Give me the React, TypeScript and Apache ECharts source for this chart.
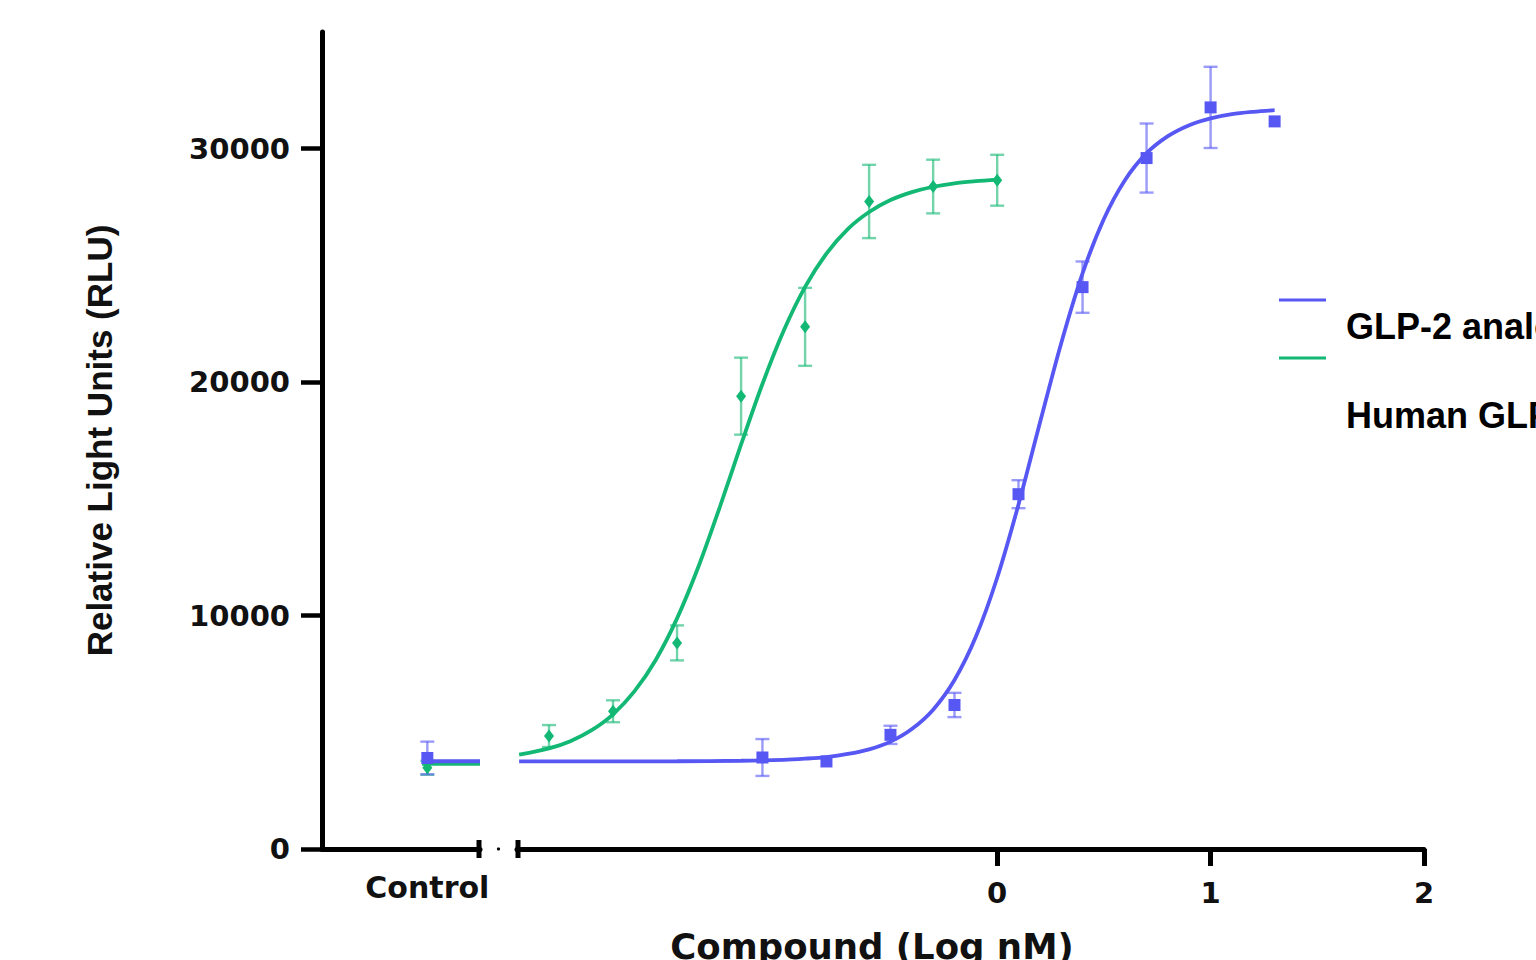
import React, { useEffect, useRef } from 'react';
import * as echarts from 'echarts';

// ---------- data ----------
const seriesNames = ['GLP-2 analog', 'Human GLP-2'];
const yTicks = [0, 10000, 20000, 30000];
const xTicks = [0, 1, 2];
const controlLabel = 'Control';

// control segment (position 1 on the control axis)
const controlX = [1];
const analogControlMean = [3900];
const analogControlSem = [700];
const humanControlMean = [3480];
const humanControlSem = [300];
const controlCurveX = [0.95, 1.5];
const analogControlCurve = [3760, 3760];
const humanControlCurve = [3650, 3650];

// Human GLP-2 (green)
const humanLogX = [-2.1, -1.8, -1.5, -1.2, -0.9, -0.6, -0.3, 0];
const humanMean = [4840, 5900, 8830, 19400, 22370, 27740, 28380, 28650];
const humanSem = [470, 470, 750, 1650, 1670, 1570, 1150, 1090];
const humanCurveX = [-2.24, -2.1, -2.0, -1.9, -1.8, -1.7, -1.6, -1.5, -1.4, -1.3, -1.2, -1.1, -1.0, -0.9, -0.8, -0.7, -0.6, -0.5, -0.4, -0.3, -0.2, -0.1, 0];
const humanCurveY = [4040, 4310, 4620, 5090, 5770, 6750, 8100, 9880, 12090, 14640, 17330, 19920, 22210, 24080, 25510, 26560, 27290, 27800, 28140, 28370, 28520, 28610, 28680];

// GLP-2 analog (blue)
const analogLogX = [-1.1, -0.8, -0.5, -0.2, 0.1, 0.4, 0.7, 1.0, 1.3];
const analogMean = [3920, 3750, 4890, 6170, 15200, 24070, 29600, 31770, 31170];
const analogSem = [790, 0, 390, 520, 600, 1100, 1480, 1740, 0];
const analogCurveX = [-2.24, -1.5, -1.2, -1.0, -0.9, -0.8, -0.7, -0.6, -0.5, -0.4, -0.3, -0.2, -0.1, 0, 0.1, 0.2, 0.3, 0.4, 0.5, 0.6, 0.7, 0.8, 0.9, 1.0, 1.1, 1.2, 1.3];
const analogCurveY = [3750, 3760, 3780, 3820, 3870, 3940, 4070, 4270, 4600, 5140, 5970, 7240, 9090, 11620, 14760, 18250, 21670, 24660, 26990, 28670, 29810, 30540, 31010, 31300, 31480, 31580, 31650];

// ---------- styles ----------
const BLUE = '#5757F3';
const GREEN = '#12B873';
const TICK_FONT = 'DejaVu Sans';
const SANS = 'Liberation Sans';

const pairs = (xs: number[], ys: number[]) => xs.map((x, i) => [x, ys[i]]);

const errorSeries = (name: string, xs: number[], means: number[], sems: number[], color: string, idx: number) => ({
  type: 'custom',
  name,
  xAxisIndex: idx,
  yAxisIndex: idx,
  silent: true,
  z: 2,
  data: xs
    .map((x, i) => [x, means[i] - sems[i], means[i] + sems[i], sems[i]])
    .filter((d) => d[3] > 0),
  encode: { x: 0, y: [1, 2] },
  renderItem: (_params: any, api: any) => {
    const x = api.value(0);
    const lo = api.coord([x, api.value(1)]);
    const hi = api.coord([x, api.value(2)]);
    const hw = 7;
    const style = { stroke: color, lineWidth: 2.4, opacity: 0.6 };
    return {
      type: 'group',
      children: [
        { type: 'line', shape: { x1: lo[0], y1: lo[1], x2: hi[0], y2: hi[1] }, style },
        { type: 'line', shape: { x1: hi[0] - hw, y1: hi[1], x2: hi[0] + hw, y2: hi[1] }, style },
        { type: 'line', shape: { x1: lo[0] - hw, y1: lo[1], x2: lo[0] + hw, y2: lo[1] }, style },
      ],
    };
  },
});

const lineSeries = (name: string, data: number[][], color: string, idx: number) => ({
  type: 'line',
  name,
  xAxisIndex: idx,
  yAxisIndex: idx,
  data,
  smooth: 0.3,
  showSymbol: false,
  symbol: 'none',
  lineStyle: { color, width: 3.8 },
  itemStyle: { color },
  z: 3,
  silent: true,
});

const pointSeries = (name: string, data: number[][], color: string, idx: number, symbol: string, size: any) => ({
  type: 'scatter',
  name,
  xAxisIndex: idx,
  yAxisIndex: idx,
  data,
  symbol,
  symbolSize: size,
  itemStyle: { color, opacity: 1 },
  z: 4,
  silent: true,
});

const tickLabel = {
  fontFamily: TICK_FONT,
  fontWeight: 'bold' as const,
  fontSize: 29,
  color: '#111',
};

export default function App() {
  const ref = useRef<HTMLDivElement>(null);

  useEffect(() => {
    const chart = echarts.init(ref.current!, null, { renderer: 'svg' });
    const axisLine = { show: true, lineStyle: { color: '#000', width: 5 } };

    const option: any = {
      animation: false,
      backgroundColor: '#fff',
      grid: [
        { left: 322, top: 32, width: 158, height: 817, containLabel: false, outerBoundsMode: 'none' },
        { left: 517, top: 32, width: 907, height: 817, containLabel: false, outerBoundsMode: 'none' },
      ],
      xAxis: [
        {
          gridIndex: 0,
          type: 'value',
          min: 0,
          max: 1.5,
          axisLine,
          axisTick: { show: false },
          splitLine: { show: false },
          axisLabel: {
            ...tickLabel,
            fontSize: 30,
            customValues: controlX,
            margin: 23,
            formatter: () => controlLabel,
          },
        },
        {
          gridIndex: 1,
          type: 'value',
          min: -2.25,
          max: 2,
          axisLine,
          axisTick: { show: true, customValues: xTicks, length: 17, lineStyle: { color: '#000', width: 5 } },
          splitLine: { show: false },
          axisLabel: { ...tickLabel, customValues: xTicks, margin: 29, formatter: (v: number) => String(v) },
        },
      ],
      yAxis: [
        {
          gridIndex: 0,
          type: 'value',
          min: 0,
          max: 35000,
          axisLine,
          axisTick: { show: true, customValues: yTicks, length: 21, lineStyle: { color: '#000', width: 4.5 } },
          splitLine: { show: false },
          axisLabel: { ...tickLabel, customValues: yTicks, margin: 32, formatter: (v: number) => String(v) },
          name: 'Relative Light Units (RLU)',
          nameLocation: 'middle',
          nameRotate: 90,
          nameGap: 205,
          nameTextStyle: { fontFamily: SANS, fontWeight: 'bold', fontSize: 35, color: '#111' },
        },
        {
          gridIndex: 1,
          type: 'value',
          min: 0,
          max: 35000,
          show: false,
          splitLine: { show: false },
        },
      ],
      series: [
        // control segment
        lineSeries(seriesNames[1], pairs(controlCurveX, humanControlCurve), GREEN, 0),
        lineSeries(seriesNames[0], pairs(controlCurveX, analogControlCurve), BLUE, 0),
        errorSeries(seriesNames[1] + ' SEM', controlX, humanControlMean, humanControlSem, GREEN, 0),
        errorSeries(seriesNames[0] + ' SEM', controlX, analogControlMean, analogControlSem, BLUE, 0),
        pointSeries(seriesNames[1], pairs(controlX, humanControlMean), GREEN, 0, 'diamond', [10, 13]),
        pointSeries(seriesNames[0], pairs(controlX, analogControlMean), BLUE, 0, 'rect', 12),
        // dose response segment
        lineSeries(seriesNames[1], pairs(humanCurveX, humanCurveY), GREEN, 1),
        lineSeries(seriesNames[0], pairs(analogCurveX, analogCurveY), BLUE, 1),
        errorSeries(seriesNames[1] + ' SEM', humanLogX, humanMean, humanSem, GREEN, 1),
        errorSeries(seriesNames[0] + ' SEM', analogLogX, analogMean, analogSem, BLUE, 1),
        pointSeries(seriesNames[1], pairs(humanLogX, humanMean), GREEN, 1, 'diamond', [10, 13]),
        pointSeries(seriesNames[0], pairs(analogLogX, analogMean), BLUE, 1, 'rect', 12),
      ],
    };

    chart.setOption(option);

    const a = chart.convertToPixel({ gridIndex: 0 }, [1.5, 0]) as number[];
    const b = chart.convertToPixel({ gridIndex: 1 }, [-2.25, 0]) as number[];

    chart.setOption({
      graphic: [
        // axis break marks
        { type: 'line', shape: { x1: a[0] - 1, y1: a[1] - 9, x2: a[0] - 1, y2: a[1] + 9 }, style: { stroke: '#000', lineWidth: 5 } },
        { type: 'line', shape: { x1: b[0] + 1, y1: b[1] - 9, x2: b[0] + 1, y2: b[1] + 9 }, style: { stroke: '#000', lineWidth: 5 } },
        { type: 'circle', shape: { cx: (a[0] + b[0]) / 2, cy: a[1], r: 1.6 }, style: { fill: '#000' } },
        // x axis title
        {
          type: 'text',
          x: 872,
          y: 946,
          style: {
            text: 'Compound (Log nM)',
            fontFamily: TICK_FONT,
            fontWeight: 'bold',
            fontSize: 35.5,
            fill: '#111',
            align: 'center',
            verticalAlign: 'middle',
          },
        },
        // legend
        { type: 'line', shape: { x1: 1279, y1: 300, x2: 1326, y2: 300 }, style: { stroke: BLUE, lineWidth: 3 } },
        { type: 'line', shape: { x1: 1279, y1: 358, x2: 1326, y2: 358 }, style: { stroke: GREEN, lineWidth: 3 } },
        {
          type: 'text',
          x: 1346,
          y: 326,
          style: { text: seriesNames[0], fontFamily: SANS, fontWeight: 'bold', fontSize: 36, fill: '#000', align: 'left', verticalAlign: 'middle' },
        },
        {
          type: 'text',
          x: 1346,
          y: 415,
          style: { text: seriesNames[1], fontFamily: SANS, fontWeight: 'bold', fontSize: 36, fill: '#000', align: 'left', verticalAlign: 'middle' },
        },
      ],
    });

    return () => chart.dispose();
  }, []);

  return <div ref={ref} style={{ position: 'fixed', left: 0, top: 0, width: 1536, height: 960 }} />;
}
